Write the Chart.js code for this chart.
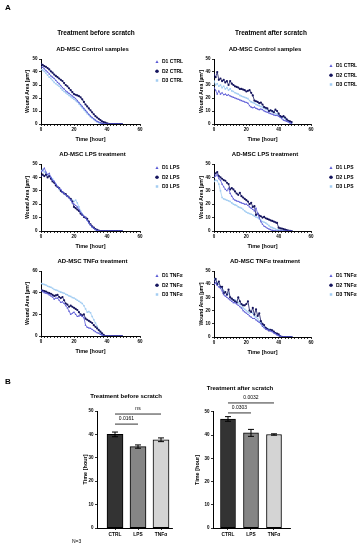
<!DOCTYPE html>
<html><head><meta charset="utf-8">
<script src="https://cdn.jsdelivr.net/npm/chart.js@4.4.1/dist/chart.umd.min.js"></script>
<style>
html,body{margin:0;padding:0;background:#fff;}
body{width:364px;height:550px;position:relative;overflow:hidden;font-family:"Liberation Sans",Arial,sans-serif;}
canvas{position:absolute;}
.t{position:absolute;font-weight:bold;white-space:nowrap;color:#000;line-height:1;will-change:transform;}
.ct{transform:translate(-50%,-50%);font-size:6.5px;}
</style></head><body>
<div class="t" style="left:5px;top:4px;font-size:8px">A</div>
<div class="t ct" style="left:96px;top:33px">Treatment before scratch</div>
<div class="t ct" style="left:271px;top:33px">Treatment after scratch</div>
<div class="t" style="left:5px;top:378px;font-size:8px">B</div>
<div class="t" style="left:72px;top:539px;font-size:5px;font-weight:normal">N=3</div>

<canvas id="p1" style="left:20px;top:42px" width="172" height="104"></canvas>
<canvas id="p2" style="left:194px;top:42px" width="170" height="104"></canvas>
<canvas id="p3" style="left:20px;top:147px" width="172" height="106"></canvas>
<canvas id="p4" style="left:194px;top:147px" width="170" height="106"></canvas>
<canvas id="p5" style="left:20px;top:254px" width="172" height="104"></canvas>
<canvas id="p6" style="left:194px;top:254px" width="170" height="105"></canvas>
<canvas id="b1" style="left:80px;top:390px" width="118" height="150"></canvas>
<canvas id="b2" style="left:190px;top:383px" width="122" height="157"></canvas>

<script>
// ---------- DATA ----------
const HOURS = [0,1,2,3,4,5,6,7,8,9,10,11,12,13,14,15,16,17,18,19,20,21,22,23,24,25,26,27,28,29,30,31,32,33,34,35,36,37,38,39,40,41,42,43,44,45,46,47,48,49];

// Treatment before scratch - Control
const beforeCtrlD1 = [44,43.5,42.5,41,40,38.5,37,36,35,33.5,32,31,29.5,28,27,25.5,24.5,23.5,22.5,21.5,20.5,19.5,18,16.5,15,13.5,12,10.5,9,7.5,6,5,4,3,2,1.5,1,0.5,0.2,0,0,0,0,0,0,0,0,0,0,0];
const beforeCtrlD2 = [46,45.5,44.5,44,43,42,40.5,39.5,38,37,36,35,34,33,31.5,30,29,27.5,26,24.5,23,22.5,22,21.5,20.5,19,17,15,13.5,12,10.5,9,7.5,6,5,4,3,2,1.5,1,0.5,0.2,0,0,0,0,0,0,0,0];
const beforeCtrlD3 = [42,41.5,40.5,39,37.5,36,35,33.5,32,31,30,29,27.5,26,25,24,23,22,21,20,19,18,17,15.5,14,12.5,11,9.5,8,7,5.5,4.5,3.5,2.5,1.5,1,0.5,0.2,0,0,0,0,0,0,0,0,0,0,0,0];
// Treatment after scratch - Control
const afterCtrlD1 = [28,26,23,25.5,23,24,22.5,23,22,22.5,21.5,21,20.5,20,19.5,19,18.5,18,17.5,17,16.5,16,14,13,12.5,13,12,11.5,11,11.5,11,10,9.5,9,8.5,8,7.5,7,6.5,6.5,6,5,4,3,2.5,2,1.5,0.8,0.3];
const afterCtrlD2 = [38,36,40,34,35,33,34,32,33,30,33,31,30,29,28.5,28,27,27,26.5,26,25,25.5,26,24,22,18,17.5,17,16,16.5,15,13,12.5,12,10,10.5,10,9,11,10,8,6,5.5,6,5,3.5,2.5,2,1.5];
const afterCtrlD3 = [33,30,31,29,30,28,29,27,28,26,27,25.5,25,24,23.5,23,22,21.5,21,20.5,20,19.5,18,17,16.5,16,15,14.5,14,13.5,13,12,11.5,11,10,10.5,9,9.5,8,7.5,7,6,5.5,5,4,3,2,1.5,1];
// Treatment before scratch - LPS
const beforeLpsD1 = [44,45,47,44,42,43,40,38,37,35,33,32,31,29,28,27,26,25,23,21,20,19,18,16,14,12,11,10,8,6,4.5,3,2,1,0.5,0.2,0,0,0,0,0,0,0,0,0,0,0,0,0,0];
const beforeLpsD2 = [41,42,41,42,40,41,39,37,36,34,33,32,30,29,28,27.5,26,25,24,22,18,17,16,15,13,12,10.5,10,9,7,5,3.5,2.5,1.5,0.8,0.3,0,0,0,0,0,0,0,0,0,0,0,0,0,0];
const beforeLpsD3 = [45,46,44,43,42,41,40,39,37,35,33,31,30,29,28,27,26,25,24,23,22,23,21,18,15,13,11,9.5,8,6,4.5,3,2,1,0.5,0,0,0,0,0,0,0,0,0,0,0,0,0,0,0];
// Treatment after scratch - LPS
const afterLpsD1 = [40,41,42,39,38,35,33,31,30,32,28,26,24,23,22.5,22,21.5,21,20.5,20,20,19,18,17,16,15,17,13,10,7,5,3.5,3,2,1.5,1,0.5,0.3,0.1,0,0,0,0,0,0,0,0,0,0];
const afterLpsD2 = [42,43,44,41,40,39,38,37.5,36,35,31,32,31,29.5,28,27,28.5,26,25,24,23,22,20,21,18,18.5,12,13,11.5,11,10,10.5,9.5,9,8.5,8,7.5,7,6.5,6,2.5,2,1.8,1.5,1,0.6,0.3,0.1,0];
const afterLpsD3 = [37,38,37.5,35,30,25,24,23.5,23,22.5,22,21,20,19.5,19,18,17.5,17,16,15,14,13.5,13,12.5,12,11,10.5,10,9,8,7,6.5,6,5,4,3,2.5,2,1.5,1,0.8,0.5,0.3,0.1,0,0,0,0,0];
// Treatment before scratch - TNFα
const beforeTnfD1 = [42,41,40,39.5,39,38,37,36,34,35,35,33,31,31.5,30,28,26,23,20,21,22,20,18,18.5,19,18,17,10,8,7.5,7,6,5,4,3,2.5,1.5,1,0,0,0,0,0,0,0,0,0,0,0,0];
const beforeTnfD2 = [42.5,42,41.5,41,40,39.5,39,38,37,37.5,38,36,35,36,33,30,29,27,28,27,26,25,24,22,20,19,20,16,15,14,13,12,10,8.5,7,5.5,4,2.5,1,0,0,0,0,0,0,0,0,0,0,0];
const beforeTnfD3 = [48.5,48,47.5,47,46,45.5,45,44,43,42.5,42,41,40.5,40,39.5,38.5,38,37,36.5,35.5,35,34,33,32,31,30,28,25,22,22.5,21.5,18,15,12,9,6,3,1,0.3,0,0,0,0,0,0,0,0,0,0,0];
// Treatment after scratch - TNFα
const afterTnfD1 = [40,41,39,38,37,35,32,31,30,29,28,27,26,26,25,24,23,22,20,19,18,17,16,15,14,14,13,12,11,10,8,7,6,5.5,5,4.5,4,3,2.5,1.5,1,0.5,0,0,0,0,0,0,0];
const afterTnfD2 = [42,44,40,42,38,38,33,34,32,36,30,29,28,27,26,30,27,25,24,24,25,27,20,19,22,17,21,16,18,12,10,9,7,6,5,5.5,5,4,3,2.5,2,0.5,0.2,0,0,0,0,0,0];
const afterTnfD3 = [44,43,41,40,38,37,35,34,32,33,30,29,28,28,27,26,25,24,22,21,20,19,18,19,18,16,15,14,12,11,9,8,7,6.5,6,5.5,5,4,3,2,1.5,0.8,0.2,0,0,0,0,0,0];

// Bar charts: time to closure [hour]
const CATEGORIES = ['CTRL','LPS','TNFα'];
const beforeMeans = [40, 34.8, 37.7];
const beforeSD = [1.0, 0.7, 0.8];
const afterMeans = [47, 41, 40.3];
const afterSD = [1.0, 1.5, 0.3];
const beforeSigLabels = ['0.0161','ns'];
const afterSigLabels = ['0.0303','0.0032'];

// ---------- STYLE ----------
const FONT = '"Liberation Sans", Arial, sans-serif';
Chart.defaults.font.family = FONT;
Chart.defaults.color = '#000';
Chart.defaults.animation = false;
const COLORS = ['#5a5ad6','#15155e','#a3cdf2'];
const STYLES = ['triangle','circle','rect'];
const BAR_COLORS = ['#333333','#858585','#d4d4d4'];

const legendPos = {
  id:'legendPos',
  afterLayout(chart, args, o){
    const l = chart.legend; if(!l || o.dx === undefined) return;
    const ca = chart.chartArea;
    l.left = ca.right + o.dx; l.width = o.w; l.right = l.left + o.w;
    l.top = ca.top + o.dy; l.height = o.h; l.bottom = l.top + o.h;
  }
};

function axisBase(){
  return {
    offset:false,
    border:{color:'#000',width:1},
    grid:{drawOnChartArea:false,offset:false,color:'#000',tickLength:2,lineWidth:0.8}
  };
}

function lineChart(id, title, series, names, yMax, yStep, g){
  new Chart(document.getElementById(id), {
    type:'line',
    data:{datasets: names.map((n,k)=>({
      label:n,
      data: HOURS.map((h,i)=>({x:h,y:series[k][i]})).filter(p=>p.y!==undefined),
      borderColor:COLORS[k], backgroundColor:COLORS[k],
      borderWidth:0.8, pointRadius:1.1, pointStyle:STYLES[k], pointBorderWidth:0, tension:0
    }))},
    options:{
      responsive:false, animation:false,
      layout:{padding:{left:0,right:g.padR,top:0,bottom:0}},
      plugins:{
        title:{display:true,text:title,color:'#000',font:{size:6,weight:'bold'},padding:{top:4,bottom:5.8}},
        legend:{display:true,position:'right',align:'start',fullSize:false,maxWidth:25,
          labels:{usePointStyle:true,boxWidth:5,boxHeight:2.5,padding:4.3,color:'#000',font:{size:5,weight:'bold'}}},
        legendPos:{dx:g.dx,dy:g.dy,w:60,h:40},
        tooltip:{enabled:false}
      },
      scales:{
        x:Object.assign(axisBase(),{
          type:'linear',min:0,max:60,
          afterFit(s){s.height=22;},
          ticks:{stepSize:2,autoSkip:false,maxRotation:0,padding:1.5,font:{size:4.5,weight:'bold'},
            callback:v=>(v%20===0?String(v):'')},
          title:{display:true,text:'Time [hour]',font:{size:5.5,weight:'bold'},padding:{top:0,bottom:3.5}}
        }),
        y:Object.assign(axisBase(),{
          min:0,max:yMax,
          afterFit(s){s.width=g.yw;},
          ticks:{stepSize:yStep,padding:1.5,font:{size:4.5,weight:'bold'}},
          title:{display:true,text:'Wound Area [µm²]',font:{size:5,weight:'bold'},padding:{top:5,bottom:0}}
        })
      }
    },
    plugins:[legendPos]
  });
}

const barExtras = {
  id:'barExtras',
  afterDatasetsDraw(chart, args, o){
    const {ctx, scales:{x, y}} = chart;
    ctx.save();
    ctx.strokeStyle = '#000'; ctx.lineWidth = 1;
    o.means.forEach((m,i)=>{
      const px = x.getPixelForValue(i);
      const t = y.getPixelForValue(m + o.sds[i]);
      const b = y.getPixelForValue(m - o.sds[i]);
      ctx.beginPath();
      ctx.moveTo(px,t); ctx.lineTo(px,b);
      ctx.moveTo(px-3,t); ctx.lineTo(px+3,t);
      ctx.moveTo(px-3,b); ctx.lineTo(px+3,b);
      ctx.stroke();
    });
    ctx.lineWidth = 0.8;
    ctx.font = '5px ' + FONT; ctx.textAlign = 'center'; ctx.textBaseline = 'middle'; ctx.fillStyle = '#000';
    o.sig.forEach((s,i)=>{
      const x1 = x.getPixelForValue(s.from), x2 = x.getPixelForValue(s.to), py = y.getPixelForValue(s.level);
      ctx.beginPath(); ctx.moveTo(x1,py); ctx.lineTo(x2,py); ctx.stroke();
      ctx.fillText(o.labels[i], (x1+x2)/2, py - 5);
    });
    ctx.restore();
  }
};

function barChart(id, title, means, sds, labels, sig, g){
  new Chart(document.getElementById(id), {
    type:'bar',
    data:{datasets:[{
      data: means.map((m,i)=>({x:i,y:m})),
      backgroundColor:BAR_COLORS, borderColor:'#000', borderWidth:1, borderSkipped:false, barThickness:g.bw
    }]},
    options:{
      responsive:false, animation:false,
      layout:{padding:{left:0,right:g.padR,top:0,bottom:0}},
      plugins:{
        title:{display:true,text:title,color:'#000',font:{size:6,weight:'bold'},padding:{top:g.tTop,bottom:g.tBot}},
        legend:{display:false}, tooltip:{enabled:false},
        barExtras:{means:means,sds:sds,labels:labels,sig:sig}
      },
      scales:{
        x:Object.assign(axisBase(),{
          type:'linear',min:g.xmin,max:g.xmax,
          afterFit(s){s.height=12;},
          afterBuildTicks(s){s.ticks=[{value:0},{value:1},{value:2}];},
          ticks:{autoSkip:false,maxRotation:0,padding:1.5,font:{size:4.8,weight:'bold'},callback:v=>CATEGORIES[v]}
        }),
        y:Object.assign(axisBase(),{
          min:0,max:50,
          afterFit(s){s.width=g.yw;},
          ticks:{stepSize:10,padding:1.5,font:{size:4.5,weight:'bold'}},
          title:{display:true,text:'Time [hour]',font:{size:5.5,weight:'bold'},padding:{top:g.ytp,bottom:0}}
        })
      }
    },
    plugins:[barExtras]
  });
}

const L = {padR:27, yw:21, dx:10.2};
const R = {padR:28, yw:20, dx:13.2};
lineChart('p1','AD-MSC Control samples',[beforeCtrlD1,beforeCtrlD2,beforeCtrlD3],['D1 CTRL','D2 CTRL','D3 CTRL'],50,10,Object.assign({dy:-3.8},L));
lineChart('p2','AD-MSC Control samples',[afterCtrlD1,afterCtrlD2,afterCtrlD3],['D1 CTRL','D2 CTRL','D3 CTRL'],50,10,Object.assign({dy:0.2},R));
lineChart('p3','AD-MSC LPS treatment',[beforeLpsD1,beforeLpsD2,beforeLpsD3],['D1 LPS','D2 LPS','D3 LPS'],50,10,Object.assign({dy:-2.8},L));
lineChart('p4','AD-MSC LPS treatment',[afterLpsD1,afterLpsD2,afterLpsD3],['D1 LPS','D2 LPS','D3 LPS'],50,10,Object.assign({dy:-2.8},R));
lineChart('p5','AD-MSC TNFα treatment',[beforeTnfD1,beforeTnfD2,beforeTnfD3],['D1 TNFα','D2 TNFα','D3 TNFα'],60,20,Object.assign({dy:-1.8},L));
lineChart('p6','AD-MSC TNFα treatment',[afterTnfD1,afterTnfD2,afterTnfD3],['D1 TNFα','D2 TNFα','D3 TNFα'],50,10,Object.assign({dy:-1.8},R));

barChart('b1','Treatment before scratch',beforeMeans,beforeSD,beforeSigLabels,
  [{from:0,to:1,level:44.4},{from:0,to:2,level:48.7}],
  {padR:26,yw:17,ytp:2,bw:16,xmin:-0.783,xmax:2.478,tTop:2.4,tBot:11.4});
barChart('b2','Treatment after scratch',afterMeans,afterSD,afterSigLabels,
  [{from:0,to:1,level:49.6},{from:0,to:2,level:53.9}],
  {padR:22,yw:23,ytp:4,bw:15,xmin:-0.652,xmax:2.696,tTop:1.4,tBot:20.4});
</script>
</body></html>
